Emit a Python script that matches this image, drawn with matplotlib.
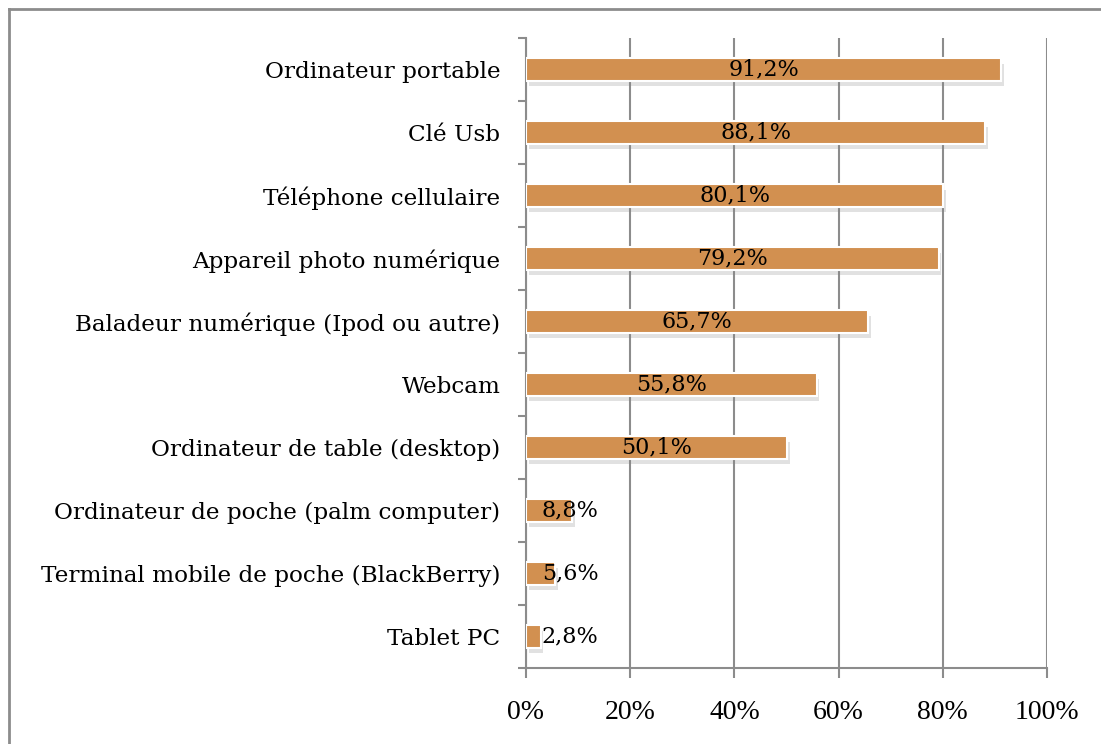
import numpy as np
import matplotlib.pyplot as plt
import matplotlib.patheffects as pe
from matplotlib.lines import Line2D

# --- data (top to bottom) ---
categories = [
    "Ordinateur portable",
    "Clé Usb",
    "Téléphone cellulaire",
    "Appareil photo numérique",
    "Baladeur numérique (Ipod ou autre)",
    "Webcam",
    "Ordinateur de table (desktop)",
    "Ordinateur de poche (palm computer)",
    "Terminal mobile de poche (BlackBerry)",
    "Tablet PC",
]
values = [91.2, 88.1, 80.1, 79.2, 65.7, 55.8, 50.1, 8.8, 5.6, 2.8]
value_labels = ["91,2%", "88,1%", "80,1%", "79,2%", "65,7%",
                "55,8%", "50,1%", "8,8%", "5,6%", "2,8%"]
xticks = [0, 20, 40, 60, 80, 100]
xtick_labels = ["0%", "20%", "40%", "60%", "80%", "100%"]

BAR_COLOR = "#D29050"
GRAY = "#8c8c8c"

fig = plt.figure(figsize=(11.01, 7.44), dpi=100)
ax = fig.add_axes([526 / 1101, 1 - 668 / 744, 521 / 1101, 630 / 744])

n = len(categories)
y = np.arange(n)[::-1]

bars = ax.barh(y, values, height=0.36, color=BAR_COLOR, edgecolor="white",
               linewidth=1.5, zorder=3)
for b in bars:
    b.set_path_effects([pe.SimplePatchShadow(offset=(2, -4), shadow_rgbFace="#888888", alpha=0.25),
                        pe.Normal()])

# value labels
for yi, v, lab in zip(y, values, value_labels):
    if v > 20:
        ax.text(v / 2, yi, lab, ha="center", va="center",
                fontsize=16, family="DejaVu Serif", zorder=4)
    else:
        ax.text(3.0, yi, lab, ha="left", va="center",
                fontsize=16, family="DejaVu Serif", zorder=4)

ax.set_xlim(0, 100)
ax.set_ylim(-0.5, n - 0.5)

ax.set_xticks(xticks)
ax.set_xticklabels(xtick_labels, family="Liberation Serif", fontsize=20)
ax.tick_params(axis="x", direction="out", length=7, width=1.5, color=GRAY, pad=16)

ax.set_yticks(y)
ax.set_yticklabels(categories, family="DejaVu Serif", fontsize=16.7)
ax.tick_params(axis="y", which="major", length=0, pad=18.5)
ax.set_yticks(np.arange(-0.5, n, 1.0), minor=True)
ax.tick_params(axis="y", which="minor", direction="out", length=6, width=1.5, color=GRAY)

ax.grid(axis="x", color=GRAY, linewidth=1.5, zorder=0)
ax.set_axisbelow(True)

for side in ["top", "right"]:
    ax.spines[side].set_visible(False)
for side in ["left", "bottom"]:
    ax.spines[side].set_color(GRAY)
    ax.spines[side].set_linewidth(1.5)

# outer frame (top and left edges only visible)
fig.add_artist(Line2D([8.5 / 1101, 1.0], [1 - 8.5 / 744, 1 - 8.5 / 744],
                      transform=fig.transFigure, color=GRAY, linewidth=2))
fig.add_artist(Line2D([8.5 / 1101, 8.5 / 1101], [0, 1 - 8.5 / 744],
                      transform=fig.transFigure, color=GRAY, linewidth=2))

fig.savefig("out.png", dpi=100)
